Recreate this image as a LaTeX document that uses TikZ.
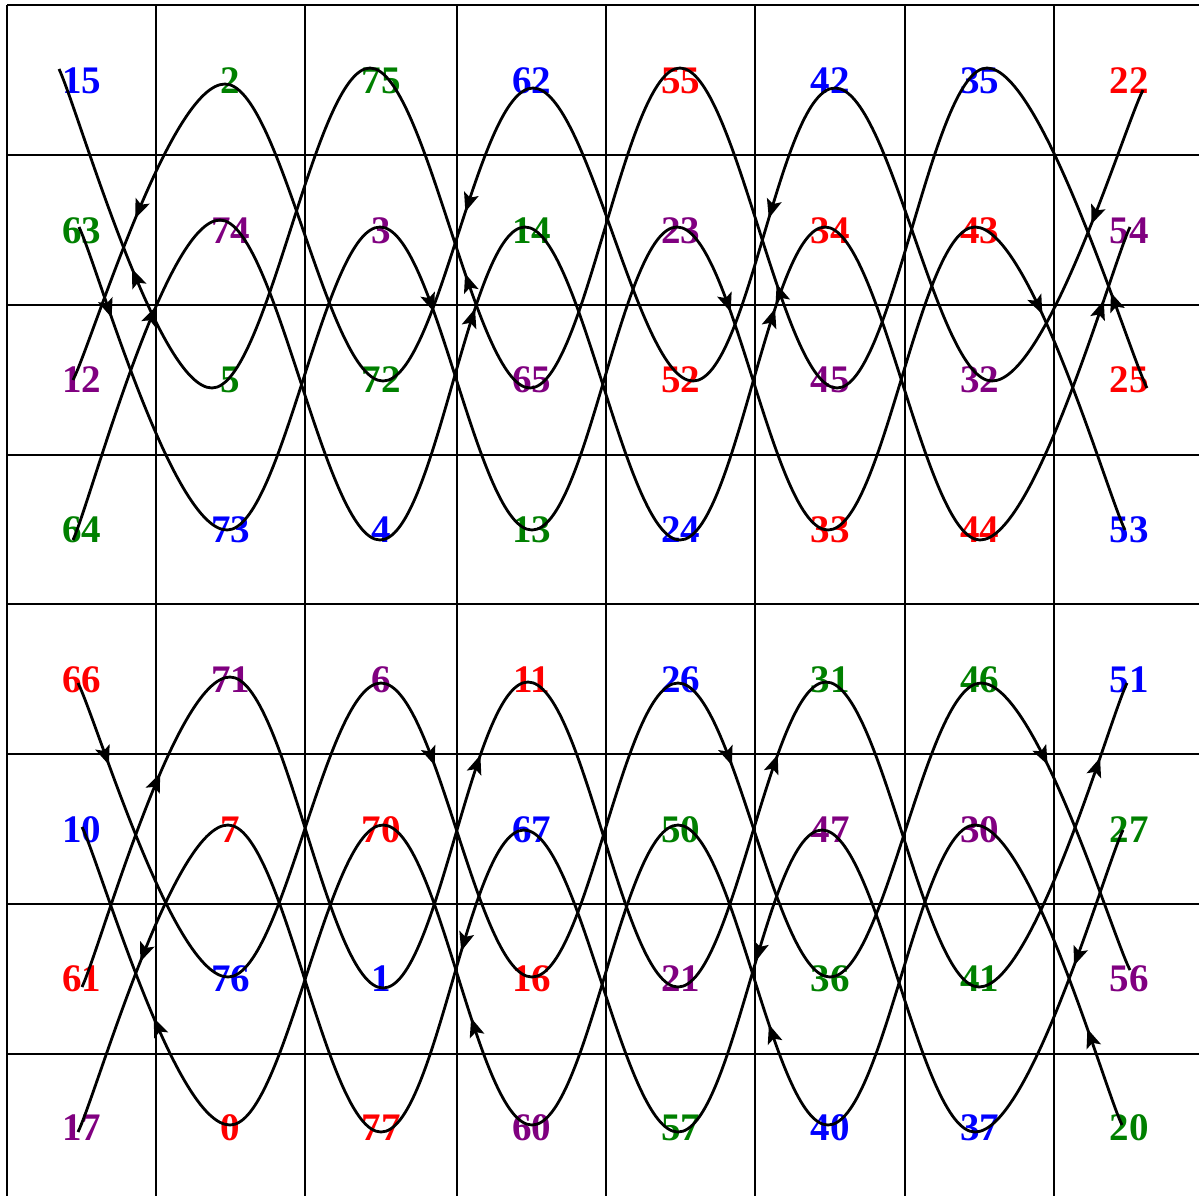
\documentclass[tikz,border=0pt]{standalone}
\usepackage{fontspec}
\setmainfont{Liberation Serif}
\usetikzlibrary{arrows.meta,decorations.markings,calc}
\definecolor{cblue}{RGB}{0,0,255}
\definecolor{cgreen}{RGB}{0,128,0}
\definecolor{cred}{RGB}{255,0,0}
\definecolor{cpurple}{RGB}{128,0,128}
\begin{document}
\begin{tikzpicture}[x=1pt,y=-1pt,
  gridline/.style={line width=2.6pt},
  lab/.style={font=\fontsize{39}{40}\selectfont\bfseries, inner sep=0pt},
  curve/.style={line width=2.8pt},
  ar/.style={postaction={decorate},decoration={markings,mark=at position #1 with {\arrow{Stealth[length=19pt,width=15pt,inset=4pt]}}}}]
\useasboundingbox (0,0) rectangle (1199,1195);
\clip (0,0) rectangle (1199,1195);
% grid
\foreach \x in {7,156,305,457,606,755,905,1054,1204}
  \draw[gridline] (\x,5) -- (\x,1204);
\foreach \y in {5,155,305,455,604,754,904,1054,1204}
  \draw[gridline] (7,\y) -- (1204,\y);
% labels row 1
\node[lab,text=cblue]   (n15) at (81.5,81) {15};
\node[lab,text=cgreen]  (n2)  at (230.5,81) {2};
\node[lab,text=cgreen]  (n75) at (381,81) {75};
\node[lab,text=cblue]   (n62) at (531.5,81) {62};
\node[lab,text=cred]    (n55) at (680.5,81) {55};
\node[lab,text=cblue]   (n42) at (830,81) {42};
\node[lab,text=cblue]   (n35) at (979.5,81) {35};
\node[lab,text=cred]    (n22) at (1129,81) {22};
% row 2
\node[lab,text=cgreen]  (n63) at (81.5,231) {63};
\node[lab,text=cpurple] (n74) at (230.5,231) {74};
\node[lab,text=cpurple] (n3)  at (381,231) {3};
\node[lab,text=cgreen]  (n14) at (531.5,231) {14};
\node[lab,text=cpurple] (n23) at (680.5,231) {23};
\node[lab,text=cred]    (n34) at (830,231) {34};
\node[lab,text=cred]    (n43) at (979.5,231) {43};
\node[lab,text=cpurple] (n54) at (1129,231) {54};
% row 3
\node[lab,text=cpurple] (n12) at (81.5,380) {12};
\node[lab,text=cgreen]  (n5)  at (230.5,380) {5};
\node[lab,text=cgreen]  (n72) at (381,380) {72};
\node[lab,text=cpurple] (n65) at (531.5,380) {65};
\node[lab,text=cred]    (n52) at (680.5,380) {52};
\node[lab,text=cpurple] (n45) at (830,380) {45};
\node[lab,text=cpurple] (n32) at (979.5,380) {32};
\node[lab,text=cred]    (n25) at (1129,380) {25};
% row 4
\node[lab,text=cgreen]  (n64) at (81.5,530) {64};
\node[lab,text=cblue]   (n73) at (230.5,530) {73};
\node[lab,text=cblue]   (n4)  at (381,530) {4};
\node[lab,text=cgreen]  (n13) at (531.5,530) {13};
\node[lab,text=cblue]   (n24) at (680.5,530) {24};
\node[lab,text=cred]    (n33) at (830,530) {33};
\node[lab,text=cred]    (n44) at (979.5,530) {44};
\node[lab,text=cblue]   (n53) at (1129,530) {53};
% row 5
\node[lab,text=cred]    (n66) at (81.5,680) {66};
\node[lab,text=cpurple] (n71) at (230.5,680) {71};
\node[lab,text=cpurple] (n6)  at (381,680) {6};
\node[lab,text=cred]    (n11) at (531.5,680) {11};
\node[lab,text=cblue]   (n26) at (680.5,680) {26};
\node[lab,text=cgreen]  (n31) at (830,680) {31};
\node[lab,text=cgreen]  (n46) at (979.5,680) {46};
\node[lab,text=cblue]   (n51) at (1129,680) {51};
% row 6
\node[lab,text=cblue]   (n10) at (81.5,830) {10};
\node[lab,text=cred]    (n7)  at (230.5,830) {7};
\node[lab,text=cred]    (n70) at (381,830) {70};
\node[lab,text=cblue]   (n67) at (531.5,830) {67};
\node[lab,text=cgreen]  (n50) at (680.5,830) {50};
\node[lab,text=cpurple] (n47) at (830,830) {47};
\node[lab,text=cpurple] (n30) at (979.5,830) {30};
\node[lab,text=cgreen]  (n27) at (1129,830) {27};
% row 7
\node[lab,text=cred]    (n61) at (81.5,979) {61};
\node[lab,text=cblue]   (n76) at (230.5,979) {76};
\node[lab,text=cblue]   (n1)  at (381,979) {1};
\node[lab,text=cred]    (n16) at (531.5,979) {16};
\node[lab,text=cpurple] (n21) at (680.5,979) {21};
\node[lab,text=cgreen]  (n36) at (830,979) {36};
\node[lab,text=cgreen]  (n41) at (979.5,979) {41};
\node[lab,text=cpurple] (n56) at (1129,979) {56};
% row 8
\node[lab,text=cpurple] (n17) at (81.5,1128) {17};
\node[lab,text=cred]    (n0)  at (230.5,1128) {0};
\node[lab,text=cred]    (n77) at (381,1128) {77};
\node[lab,text=cpurple] (n60) at (531.5,1128) {60};
\node[lab,text=cgreen]  (n57) at (680.5,1128) {57};
\node[lab,text=cblue]   (n40) at (830,1128) {40};
\node[lab,text=cblue]   (n37) at (979.5,1128) {37};
\node[lab,text=cgreen]  (n20) at (1129,1128) {20};
% curve points
\coordinate (q15) at (59,69);   \coordinate (q5)  at (212,388); \coordinate (q75) at (370,68);
\coordinate (q65) at (530,388); \coordinate (q55) at (680,68);  \coordinate (q45) at (837,388);
\coordinate (q35) at (987,68);  \coordinate (q25) at (1147,388);
\coordinate (q12) at (73,380);  \coordinate (q2)  at (225,84);  \coordinate (q72) at (383,381);
\coordinate (q62) at (533,88);  \coordinate (q52) at (693,381); \coordinate (q42) at (835,88);
\coordinate (q32) at (992,381); \coordinate (q22) at (1143,90);
\coordinate (q63) at (79,227);  \coordinate (q73) at (227,530); \coordinate (q3)  at (380,227);
\coordinate (q13) at (532,530); \coordinate (q23) at (677,227); \coordinate (q33) at (828,530);
\coordinate (q43) at (975,227); \coordinate (q53) at (1125,530);
\coordinate (q64) at (73,540);  \coordinate (q74) at (220,220); \coordinate (q4)  at (380,540);
\coordinate (q14) at (525,227); \coordinate (q24) at (680,540); \coordinate (q34) at (825,227);
\coordinate (q44) at (980,540); \coordinate (q54) at (1130,227);
\coordinate (q66) at (78,683);  \coordinate (q76) at (228,977); \coordinate (q6)  at (381,683);
\coordinate (q16) at (532,977); \coordinate (q26) at (678,683); \coordinate (q36) at (830,977);
\coordinate (q46) at (981,683); \coordinate (q56) at (1130,970);
\coordinate (q61) at (82,987);  \coordinate (q71) at (230,677); \coordinate (q1)  at (383,988);
\coordinate (q11) at (528,682); \coordinate (q21) at (678,987); \coordinate (q31) at (826,682);
\coordinate (q41) at (979,987); \coordinate (q51) at (1127,683);
\coordinate (q10) at (82,827);  \coordinate (q0)  at (230,1125); \coordinate (q70) at (383,825);
\coordinate (q60) at (532,1125); \coordinate (q50) at (678,825); \coordinate (q40) at (828,1125);
\coordinate (q30) at (975,825); \coordinate (q20) at (1122,1125);
\coordinate (q17) at (78,1132); \coordinate (q7)  at (228,825); \coordinate (q77) at (381,1132);
\coordinate (q67) at (524,830); \coordinate (q57) at (678,1132); \coordinate (q47) at (822,830);
\coordinate (q37) at (975,1132); \coordinate (q27) at (1123,830);
% units 5
\draw[curve,ar=0.41] (q5) .. controls +(-55,0) and ($(q15)!0.12!(q5)$) .. (q15);
\draw[curve] (q5) .. controls +(55,0) and +(-55,0) .. (q75);
\draw[curve,ar=0.37] (q65) .. controls +(-55,0) and +(55,0) .. (q75);
\draw[curve] (q65) .. controls +(55,0) and +(-55,0) .. (q55);
\draw[curve,ar=0.34] (q45) .. controls +(-55,0) and +(55,0) .. (q55);
\draw[curve] (q45) .. controls +(55,0) and +(-55,0) .. (q35);
\draw[curve,ar=0.28] (q25) .. controls ($(q25)!0.12!(q35)$) and +(55,0) .. (q35);
% units 2
\draw[curve,ar=0.49] (q2) .. controls +(-55,0) and ($(q12)!0.12!(q2)$) .. (q12);
\draw[curve] (q2) .. controls +(55,0) and +(-55,0) .. (q72);
\draw[curve,ar=0.43] (q62) .. controls +(-55,0) and +(55,0) .. (q72);
\draw[curve] (q62) .. controls +(55,0) and +(-55,0) .. (q52);
\draw[curve,ar=0.45] (q42) .. controls +(-55,0) and +(55,0) .. (q52);
\draw[curve] (q42) .. controls +(55,0) and +(-55,0) .. (q32);
\draw[curve,ar=0.43] (q22) .. controls ($(q22)!0.12!(q32)$) and +(55,0) .. (q32);
% units 3
\draw[curve,ar=0.28] (q63) .. controls ($(q63)!0.12!(q73)$) and +(-55,0) .. (q73);
\draw[curve] (q73) .. controls +(55,0) and +(-55,0) .. (q3);
\draw[curve,ar=0.30] (q3) .. controls +(55,0) and +(-55,0) .. (q13);
\draw[curve] (q13) .. controls +(55,0) and +(-55,0) .. (q23);
\draw[curve,ar=0.30] (q23) .. controls +(55,0) and +(-55,0) .. (q33);
\draw[curve] (q33) .. controls +(55,0) and +(-55,0) .. (q43);
\draw[curve,ar=0.33] (q43) .. controls +(55,0) and ($(q53)!0.12!(q43)$) .. (q53);
% units 4
\draw[curve,ar=0.69] (q64) .. controls ($(q64)!0.12!(q74)$) and +(-55,0) .. (q74);
\draw[curve] (q74) .. controls +(55,0) and +(-55,0) .. (q4);
\draw[curve,ar=0.72] (q4) .. controls +(55,0) and +(-55,0) .. (q14);
\draw[curve] (q14) .. controls +(55,0) and +(-55,0) .. (q24);
\draw[curve,ar=0.72] (q24) .. controls +(55,0) and +(-55,0) .. (q34);
\draw[curve] (q34) .. controls +(55,0) and +(-55,0) .. (q44);
\draw[curve,ar=0.78] (q44) .. controls +(55,0) and ($(q54)!0.12!(q44)$) .. (q54);
% units 6
\draw[curve,ar=0.26] (q66) .. controls ($(q66)!0.12!(q76)$) and +(-55,0) .. (q76);
\draw[curve] (q76) .. controls +(55,0) and +(-55,0) .. (q6);
\draw[curve,ar=0.30] (q6) .. controls +(55,0) and +(-55,0) .. (q16);
\draw[curve] (q16) .. controls +(55,0) and +(-55,0) .. (q26);
\draw[curve,ar=0.30] (q26) .. controls +(55,0) and +(-55,0) .. (q36);
\draw[curve] (q36) .. controls +(55,0) and +(-55,0) .. (q46);
\draw[curve,ar=0.33] (q46) .. controls +(55,0) and ($(q56)!0.12!(q46)$) .. (q56);
% units 1
\draw[curve,ar=0.65] (q61) .. controls ($(q61)!0.12!(q71)$) and +(-55,0) .. (q71);
\draw[curve] (q71) .. controls +(55,0) and +(-55,0) .. (q1);
\draw[curve,ar=0.74] (q1) .. controls +(55,0) and +(-55,0) .. (q11);
\draw[curve] (q11) .. controls +(55,0) and +(-55,0) .. (q21);
\draw[curve,ar=0.74] (q21) .. controls +(55,0) and +(-55,0) .. (q31);
\draw[curve] (q31) .. controls +(55,0) and +(-55,0) .. (q41);
\draw[curve,ar=0.77] (q41) .. controls +(55,0) and ($(q51)!0.12!(q41)$) .. (q51);
% units 0
\draw[curve,ar=0.40] (q0) .. controls +(-55,0) and ($(q10)!0.12!(q0)$) .. (q10);
\draw[curve] (q0) .. controls +(55,0) and +(-55,0) .. (q70);
\draw[curve,ar=0.37] (q60) .. controls +(-55,0) and +(55,0) .. (q70);
\draw[curve] (q60) .. controls +(55,0) and +(-55,0) .. (q50);
\draw[curve,ar=0.35] (q40) .. controls +(-55,0) and +(55,0) .. (q50);
\draw[curve] (q40) .. controls +(55,0) and +(-55,0) .. (q30);
\draw[curve,ar=0.30] (q20) .. controls ($(q20)!0.12!(q30)$) and +(55,0) .. (q30);
% units 7
\draw[curve,ar=0.48] (q7) .. controls +(-55,0) and ($(q17)!0.12!(q7)$) .. (q17);
\draw[curve] (q7) .. controls +(55,0) and +(-55,0) .. (q77);
\draw[curve,ar=0.41] (q67) .. controls +(-55,0) and +(55,0) .. (q77);
\draw[curve] (q67) .. controls +(55,0) and +(-55,0) .. (q57);
\draw[curve,ar=0.44] (q47) .. controls +(-55,0) and +(55,0) .. (q57);
\draw[curve] (q47) .. controls +(55,0) and +(-55,0) .. (q37);
\draw[curve,ar=0.42] (q27) .. controls ($(q27)!0.12!(q37)$) and +(55,0) .. (q37);
\end{tikzpicture}
\end{document}
